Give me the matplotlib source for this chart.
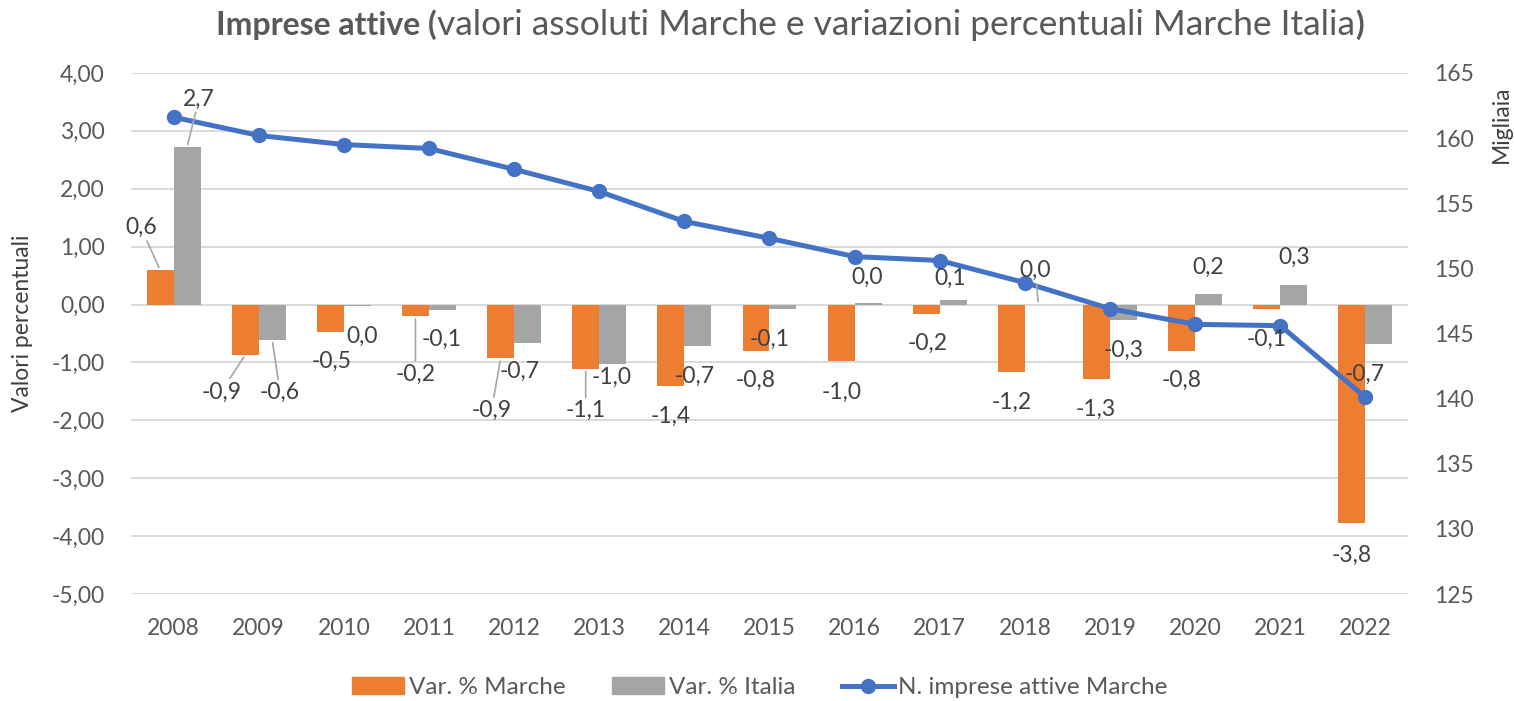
import numpy as np
import matplotlib.pyplot as plt
from matplotlib.patches import Patch
from matplotlib.lines import Line2D

plt.rcParams['font.family'] = ['Lato', 'DejaVu Sans']

years = ["2008", "2009", "2010", "2011", "2012", "2013", "2014", "2015",
         "2016", "2017", "2018", "2019", "2020", "2021", "2022"]
var_marche = [0.60, -0.87, -0.48, -0.20, -0.93, -1.11, -1.41, -0.81,
              -0.98, -0.16, -1.17, -1.29, -0.80, -0.08, -3.78]
var_italia = [2.72, -0.61, -0.02, -0.10, -0.66, -1.03, -0.72, -0.07,
              0.02, 0.08, 0.00, -0.27, 0.19, 0.34, -0.68]
imprese_marche = [161.6, 160.2, 159.5, 159.2, 157.6, 155.9, 153.6, 152.3,
                  150.9, 150.6, 148.9, 146.9, 145.7, 145.6, 140.1]

# label offsets in pixels (dx, dy) from the bar end, and whether a leader line is drawn
off_marche = [(-19, 42), (-24, -37), (1, -29), (0, -58), (-9, -52), (0, -42), (0, -30), (0, -29),
              (0, -31), (1, -30), (0, -30), (-1, -30), (0, -30), (0, -30), (0, -32)]
lead_marche = [1, 1, 0, 1, 1, 1, 0, 0, 0, 0, 0, 0, 0, 0, 0]
off_italia = [(12, 48), (8, -53), (5, -31), (-1, -29), (-8, -29), (-1, -13), (-3, -30), (-13, -31),
              (-1, 26), (-3, 22), (-3, 34), (0, -30), (0, 26), (0, 27), (-14, -30)]
lead_italia = [1, 1, 0, 0, 0, 0, 0, 0, 0, 0, 1, 0, 0, 0, 0]

ORANGE = "#ED7D31"
GRAY = "#A5A5A5"
BLUE = "#4472C4"
TXT = "#595959"
LBL = "#404040"

fig = plt.figure(figsize=(15.14, 7.01), dpi=100)
ax = fig.add_axes([0.0865, 0.1526, 0.8435, 0.7434])
ax2 = ax.twinx()

x = np.arange(len(years))
w = 0.317
ax.bar(x - w / 2, var_marche, w, color=ORANGE, zorder=2)
ax.bar(x + w / 2, var_italia, w, color=GRAY, zorder=2)

ax.set_xlim(-0.5, len(years) - 0.5)
ax.set_ylim(-5, 4)
ax.set_yticks(np.arange(-5, 5, 1))
ax.set_yticklabels([f"{v:.2f}".replace(".", ",") for v in np.arange(-5, 5, 1)])
ax.set_xticks(x)
ax.set_xticklabels(years)
ax.grid(axis="y", color="#D9D9D9", lw=1.4, zorder=0)
ax.set_axisbelow(True)
ax.tick_params(length=0, labelsize=16.5, colors=TXT, pad=19)
ax.tick_params(axis="x", pad=17)
ax.set_ylabel("Valori percentuali", fontsize=16.5, color=LBL)
ax.yaxis.set_label_coords(-0.0767, 0.52)

ax2.plot(x, imprese_marche, color=BLUE, lw=3.6, marker="o", markersize=10, zorder=3)
ax2.set_ylim(125, 165)
ax2.set_yticks(np.arange(125, 170, 5))
ax2.tick_params(length=0, labelsize=16.5, colors=TXT, pad=19)

for a in (ax, ax2):
    for s in a.spines.values():
        s.set_visible(False)

fig.text(0.9915, 0.823, "Migliaia", rotation=90, fontsize=16.5, color=LBL, ha="center", va="center")


def put_labels(vals, offs, leads, shift):
    for i, v in enumerate(vals):
        txt = f"{v:.1f}".replace(".", ",")
        if txt == "-0,0":
            txt = "0,0"
        kw = {}
        if leads[i]:
            kw["arrowprops"] = dict(arrowstyle="-", color="#A6A6A6", lw=1.2, shrinkA=0, shrinkB=2)
        ax2.annotate(txt, xy=(x[i] + shift, v), xycoords=ax.transData,
                     xytext=offs[i], textcoords="offset pixels",
                     ha="center", va="center", fontsize=16.5, color=LBL, zorder=5, **kw)


put_labels(var_marche, off_marche, lead_marche, -w / 2)
put_labels(var_italia, off_italia, lead_italia, w / 2)

# title with mixed weight
fig.canvas.draw()
r = fig.canvas.get_renderer()
parts = [("Imprese attive (", "bold", 23),
         ("valori assoluti Marche e variazioni percentuali Marche Italia", "normal", 25.5),
         (")", "bold", 23)]
texts = []
total = 0
for s, wt, fs in parts:
    t = fig.text(0, 0.950, s, fontsize=fs, fontweight=wt, color=TXT, va="baseline", ha="left")
    wpx = t.get_window_extent(r).width
    texts.append((t, wpx))
    total += wpx
xpos = 790 - total / 2
for t, wpx in texts:
    t.set_x(xpos / 1514)
    xpos += wpx

handles = [Patch(color=ORANGE), Patch(color=GRAY),
           Line2D([0], [0], color=BLUE, lw=3.6, marker="o", markersize=10)]
fig.legend(handles, ["Var. % Marche", "Var. % Italia", "N. imprese attive Marche"],
           loc="center", bbox_to_anchor=(0.502, 0.019), ncol=3, frameon=False,
           fontsize=17.5, labelcolor=TXT, handlelength=2.14, handletextpad=0.2,
           columnspacing=1.9)

fig.savefig("out.png", dpi=100)
